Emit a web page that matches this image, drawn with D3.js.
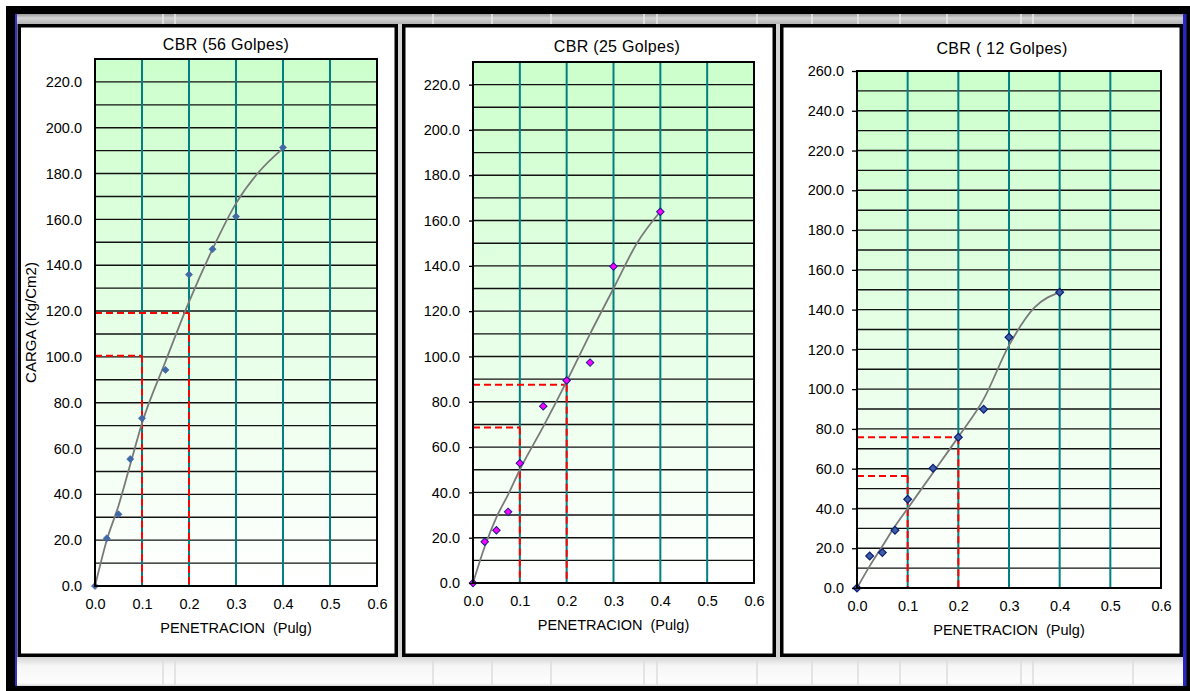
<!DOCTYPE html>
<html>
<head>
<meta charset="utf-8">
<script src="https://cdn.jsdelivr.net/npm/d3@7"></script>
<style>
  body { margin: 0; background: #fff; }
  svg { display: block; }
  text { font-family: "Liberation Sans", Arial, sans-serif; fill: #000; }
</style>
</head>
<body>
<svg width="1190" height="691"></svg>
<script>
// datos
let titulos = ["CBR (56 Golpes)", "CBR (25 Golpes)", "CBR ( 12 Golpes)"];
let yMax = [230, 230, 260];

let penetracion = [0, 0.025, 0.05, 0.075, 0.1, 0.15, 0.2, 0.25, 0.3, 0.4];
let carga56 = [0, 20.8, 31.3, 55.4, 73.2, 94.3, 135.9, 147, 161.3, 191.4];
let carga25 = [0, 18.2, 23.3, 31.4, 52.9, 78, 89.4, 97.3, 139.7, 163.9];
let carga12 = [0, 16.1, 17.8, 29, 44.6, 60.2, 75.8, 89.9, 126.1, 148.7];

// linea de tendencia (leida punto a punto)
let curvaX = [0, 0.025, 0.05, 0.075, 0.1, 0.15, 0.2, 0.25, 0.3, 0.35, 0.4];
let curva56 = [0, 20, 35, 53, 71, 98, 124, 147, 167, 181, 191];
let curva25 = [0, 16, 29, 39, 50, 69, 89, 110, 130, 150, 164];
let curva12 = [0, 11, 21, 31, 40, 58, 76, 95, 122, 141, 148.7];

// CBR a 0.1 y 0.2 pulg
let cbrPen = [0.1, 0.2];
let cbr56 = [100.5, 119.2];
let cbr25 = [68.6, 87.5];
let cbr12 = [56.3, 75.8];

let xTitulo = "PENETRACION  (Pulg)";
let yTitulo = "CARGA (Kg/Cm2)";

let svg = d3.select("svg"),
    width = +svg.attr("width"),
    height = +svg.attr("height");

let defs = svg.append("defs");
let grad = defs.append("linearGradient").attr("id", "verde")
    .attr("x1", 0).attr("y1", 0).attr("x2", 0).attr("y2", 1);
grad.append("stop").attr("offset", "0%").attr("stop-color", "#ccffcc");
grad.append("stop").attr("offset", "100%").attr("stop-color", "#ffffff");

let gTop = defs.append("linearGradient").attr("id", "barraSup")
    .attr("x1", 0).attr("y1", 0).attr("x2", 0).attr("y2", 1);
gTop.append("stop").attr("offset", "0%").attr("stop-color", "#9a9a9a");
gTop.append("stop").attr("offset", "40%").attr("stop-color", "#d4d4d4");
gTop.append("stop").attr("offset", "100%").attr("stop-color", "#b4b4b4");

let gBot = defs.append("linearGradient").attr("id", "barraInf")
    .attr("x1", 0).attr("y1", 0).attr("x2", 0).attr("y2", 1);
gBot.append("stop").attr("offset", "0%").attr("stop-color", "#d4d4d4");
gBot.append("stop").attr("offset", "30%").attr("stop-color", "#f6f6f6");
gBot.append("stop").attr("offset", "90%").attr("stop-color", "#fdfdfd");
gBot.append("stop").attr("offset", "100%").attr("stop-color", "#d8d8d8");

// marco de la hoja
svg.append("rect").attr("width", width).attr("height", height).attr("fill", "#fff");
svg.append("rect").attr("x", 6).attr("y", 6).attr("width", width - 6).attr("height", height - 6).attr("fill", "#000");
svg.append("rect").attr("x", 17).attr("y", 14).attr("width", 1166).attr("height", 672).attr("fill", "#d4d4d4");
svg.append("rect").attr("x", 17).attr("y", 14).attr("width", 1166).attr("height", 10).attr("fill", "url(#barraSup)");
svg.append("rect").attr("x", 17).attr("y", 657).attr("width", 1166).attr("height", 29).attr("fill", "url(#barraInf)");

let celdas = [163, 175, 433, 492, 551, 644, 657, 757, 812, 858, 900, 947, 1021, 1033, 1133];
svg.append("g").selectAll("line").data(celdas).enter().append("line")
    .attr("x1", d => d).attr("x2", d => d).attr("y1", 658).attr("y2", 685)
    .attr("stroke", "#dcdcdc").attr("stroke-width", 1.5);
svg.append("g").selectAll("line").data(celdas).enter().append("line")
    .attr("x1", d => d).attr("x2", d => d).attr("y1", 14).attr("y2", 24)
    .attr("stroke", "#e8e8e8").attr("stroke-width", 1.5);

svg.append("rect").attr("x", 15).attr("y", 14).attr("width", 2).attr("height", 672).attr("fill", "#3434c8");
svg.append("rect").attr("x", 1183).attr("y", 14).attr("width", 3.5).attr("height", 672).attr("fill", "#2828c0");

// paneles
let marcos = [
  { x0: 17.5, x1: 398 },
  { x0: 402, x1: 776 },
  { x0: 780, x1: 1183 }
];
marcos.forEach(function(m) {
  svg.append("rect")
      .attr("x", m.x0 + 1.75).attr("y", 25.75)
      .attr("width", m.x1 - m.x0 - 3.5).attr("height", 629.5)
      .attr("fill", "#fff").attr("stroke", "#000").attr("stroke-width", 3.5);
});

let paneles = [
  { titulo: titulos[0], carga: carga56, curva: curva56, cbr: cbr56, ymax: yMax[0],
    left: 95, right: 377, top: 59, bottom: 586, tituloX: 226, tituloY: 44, tick: 0,
    fill: "#4169a8", stroke: "#3a5e9c", sw: 0.5, size: 26, yLabel: true },
  { titulo: titulos[1], carga: carga25, curva: curva25, cbr: cbr25, ymax: yMax[1],
    left: 473, right: 754, top: 62, bottom: 583, tituloX: 617, tituloY: 46, tick: 4,
    fill: "#ff00ff", stroke: "#1c1c8a", sw: 1, size: 28, yLabel: false },
  { titulo: titulos[2], carga: carga12, curva: curva12, cbr: cbr12, ymax: yMax[2],
    left: 857, right: 1161, top: 71, bottom: 588, tituloX: 1002, tituloY: 48, tick: 5,
    fill: "#3d5fa8", stroke: "#0c1c72", sw: 1.2, size: 30, yLabel: false }
];

paneles.forEach(dibujar);

function dibujar(p) {
  let x = d3.scaleLinear().domain([0, 0.6]).range([p.left, p.right]);
  let y = d3.scaleLinear().domain([0, p.ymax]).range([p.bottom, p.top]);
  let g = svg.append("g");

  g.append("rect")
      .attr("x", p.left).attr("y", p.top)
      .attr("width", p.right - p.left).attr("height", p.bottom - p.top)
      .attr("fill", "url(#verde)");

  // rejilla horizontal cada 10
  g.append("g").selectAll("line")
      .data(y.ticks(p.ymax / 10))
      .enter().append("line")
      .attr("x1", p.left).attr("x2", p.right)
      .attr("y1", d => y(d)).attr("y2", d => y(d))
      .attr("stroke", "#111").attr("stroke-width", 1.4);

  // rejilla vertical
  g.append("g").selectAll("line")
      .data(x.ticks(6).filter(d => d > 0 && d < 0.6))
      .enter().append("line")
      .attr("x1", d => x(d)).attr("x2", d => x(d))
      .attr("y1", p.top).attr("y2", p.bottom)
      .attr("stroke", "#008080").attr("stroke-width", 2);

  // lineas CBR
  let rojo = g.append("g")
      .attr("stroke", "#ff0000").attr("stroke-width", 2)
      .attr("stroke-dasharray", "7,4").attr("fill", "none");
  cbrPen.forEach(function(pen, i) {
    rojo.append("line")
        .attr("x1", x(0)).attr("x2", x(pen))
        .attr("y1", y(p.cbr[i])).attr("y2", y(p.cbr[i]));
    rojo.append("line")
        .attr("x1", x(pen)).attr("x2", x(pen))
        .attr("y1", y(p.cbr[i])).attr("y2", y(0));
  });

  // tendencia
  let linea = d3.line()
      .x(function(d, i) { return x(curvaX[i]); })
      .y(function(d) { return y(d); })
      .curve(d3.curveMonotoneX);
  g.append("path")
      .attr("d", linea(p.curva))
      .attr("fill", "none").attr("stroke", "#7a7a7a").attr("stroke-width", 1.8);

  // puntos
  let rombo = d3.symbol().type(d3.symbolSquare).size(p.size);
  g.append("g").selectAll("path")
      .data(p.carga)
      .enter().append("path")
      .attr("d", rombo)
      .attr("transform", function(d, i) {
        return "translate(" + x(penetracion[i]) + "," + y(d) + ") rotate(45)";
      })
      .attr("fill", p.fill).attr("stroke", p.stroke).attr("stroke-width", p.sw);

  // borde
  g.append("rect")
      .attr("x", p.left).attr("y", p.top)
      .attr("width", p.right - p.left).attr("height", p.bottom - p.top)
      .attr("fill", "none").attr("stroke", "#000").attr("stroke-width", 2);

  // ejes
  let ay = g.append("g")
      .attr("transform", "translate(" + p.left + ",0)")
      .call(d3.axisLeft(y)
        .tickValues(d3.range(0, p.ymax + 1, 20))
        .tickFormat(d3.format(".1f"))
        .tickSize(p.tick).tickPadding(13 - p.tick));
  ay.select(".domain").remove();
  ay.selectAll("line").attr("stroke", "#000").attr("stroke-width", 1.3);
  ay.selectAll("text").style("font-size", "14.5px").attr("fill", "#000");

  let ax = g.append("g")
      .attr("transform", "translate(0," + p.bottom + ")")
      .call(d3.axisBottom(x)
        .ticks(6)
        .tickFormat(d3.format(".1f"))
        .tickSize(0).tickPadding(13));
  ax.select(".domain").remove();
  ax.selectAll("text").style("font-size", "14.5px").attr("fill", "#000");

  g.append("text")
      .attr("x", p.tituloX).attr("y", p.tituloY)
      .attr("text-anchor", "middle").attr("dy", "0.35em")
      .style("font-size", "16px").style("letter-spacing", "0.3px")
      .text(p.titulo);

  g.append("text")
      .attr("x", (p.left + p.right) / 2).attr("y", p.bottom + 42)
      .attr("text-anchor", "middle").attr("dy", "0.35em")
      .style("font-size", "14.5px").style("white-space", "pre")
      .text(xTitulo);

  if (p.yLabel) {
    g.append("text")
        .attr("transform", "translate(31," + ((p.top + p.bottom) / 2) + ") rotate(-90)")
        .attr("text-anchor", "middle").attr("dy", "0.35em")
        .style("font-size", "15px")
        .text(yTitulo);
  }
}
</script>
</body>
</html>
